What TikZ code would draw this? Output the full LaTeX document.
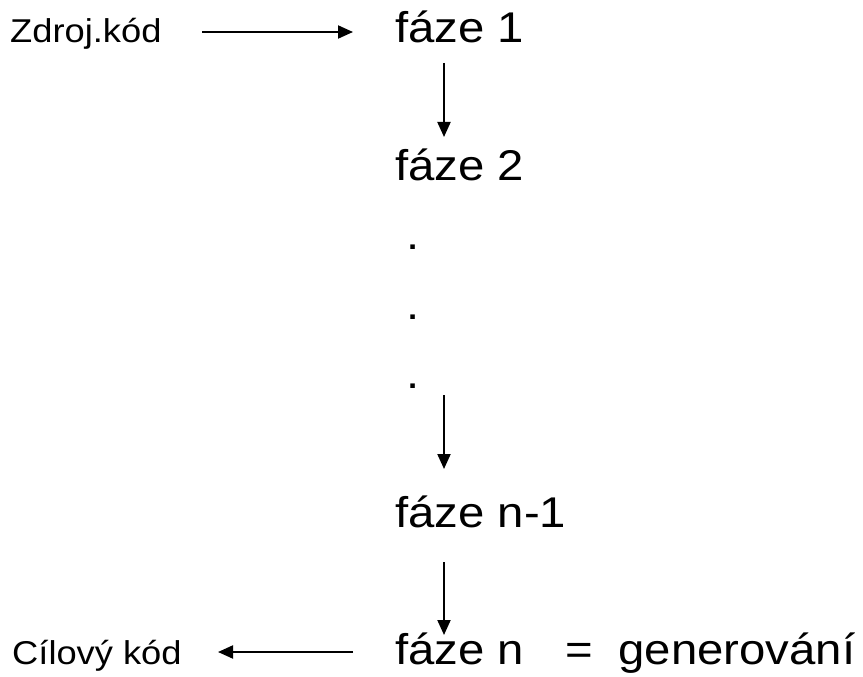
\documentclass[tikz,border=0pt]{standalone}
\usepackage{fontspec}
\setmainfont{Liberation Sans}
\newfontfamily\bigtxt[FakeStretch=1.1]{Liberation Sans}
\usetikzlibrary{arrows.meta}
\begin{document}
\begin{tikzpicture}[x=1pt,y=-1pt,
  big/.style={anchor=base west,inner sep=0pt,font=\bigtxt\fontsize{43}{43}\selectfont},
  small/.style={anchor=base west,inner sep=0pt,font=\bigtxt\fontsize{33}{33}\selectfont},
  arr/.style={line width=2pt,-{Triangle[length=15pt,width=13pt]}}]
\useasboundingbox (0,0) rectangle (863,677);
\node[small] (src) at (10,43) {Zdroj.kód};
\node[big] (f1) at (395,43) {fáze 1};
\node[big] (f2) at (395,180) {fáze 2};
\node[big] (d1) at (406.5,249) {.};
\node[big] (d2) at (406.5,319) {.};
\node[big] (d3) at (406.5,388) {.};
\node[big] (fn1) at (395,527) {fáze n-1};
\node[big] (fn) at (395,664) {fáze n\hspace{41pt}=\hspace{26pt}generování};
\node[small] (dst) at (12,664) {Cílový kód};
\coordinate (h1s) at (202,32);
\coordinate (h1e) at (353,32);
\coordinate (v1s) at (444,63);
\coordinate (v1e) at (444,137);
\coordinate (v2s) at (444,395);
\coordinate (v2e) at (444,469);
\coordinate (v3s) at (444,562);
\coordinate (v3e) at (444,635);
\coordinate (h2s) at (353,652);
\coordinate (h2e) at (218,652);
\draw[arr] (h1s) -- (h1e);
\draw[arr] (v1s) -- (v1e);
\draw[arr] (v2s) -- (v2e);
\draw[arr] (v3s) -- (v3e);
\draw[arr] (h2s) -- (h2e);
\end{tikzpicture}
\end{document}
